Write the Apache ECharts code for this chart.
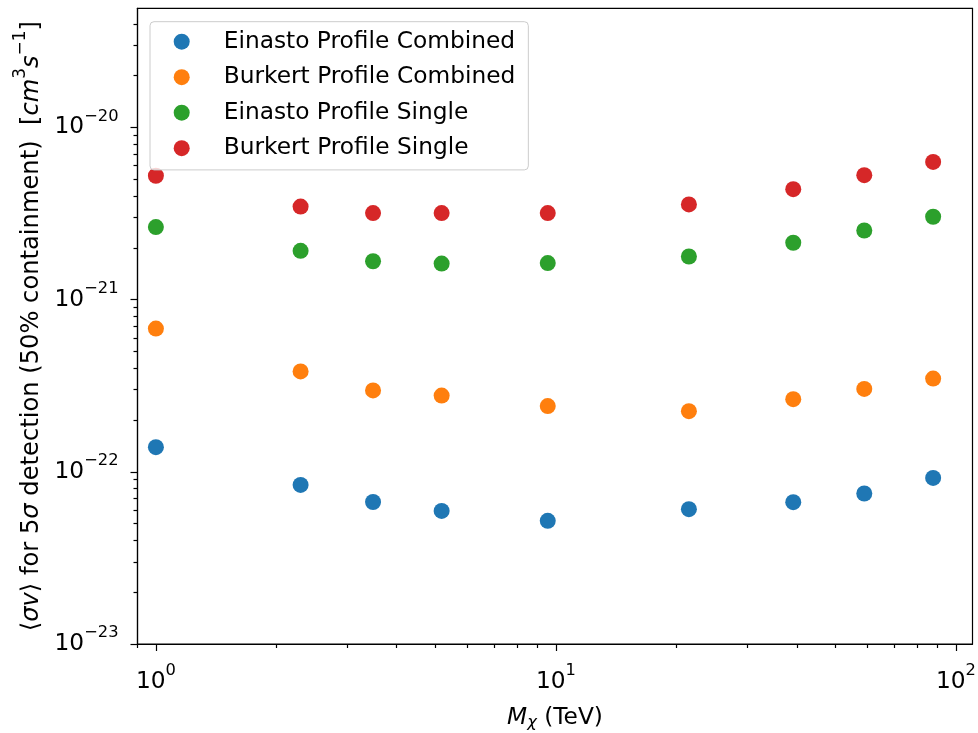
<!DOCTYPE html>
<html><head><meta charset="utf-8">
<script src="https://cdn.jsdelivr.net/npm/echarts@6/dist/echarts.min.js"></script>
<style>html,body{margin:0;padding:0;background:#fff;} #chart{width:978px;height:733px;}</style>
</head><body><div id="chart"></div>
<script>
// ---- data ----
const massesTeV = [1.0, 2.30, 3.49, 5.18, 9.54, 21.5, 39.2, 59.0, 87.7];
const einastoCombined = [1.39e-22, 8.39e-23, 6.68e-23, 5.93e-23, 5.19e-23, 6.07e-23, 6.66e-23, 7.48e-23, 9.21e-23];
const burkertCombined = [6.79e-22, 3.83e-22, 2.97e-22, 2.77e-22, 2.41e-22, 2.25e-22, 2.64e-22, 3.03e-22, 3.48e-22];
const einastoSingle = [2.64e-21, 1.92e-21, 1.67e-21, 1.62e-21, 1.63e-21, 1.78e-21, 2.14e-21, 2.52e-21, 3.03e-21];
const burkertSingle = [5.24e-21, 3.47e-21, 3.18e-21, 3.18e-21, 3.18e-21, 3.57e-21, 4.38e-21, 5.28e-21, 6.31e-21];
const seriesNames = ['Einasto Profile Combined', 'Burkert Profile Combined', 'Einasto Profile Single', 'Burkert Profile Single'];

const xMajorTicks = [1, 10, 100];
const xMinorTicks = [0.9, 2, 3, 4, 5, 6, 7, 8, 9, 20, 30, 40, 50, 60, 70, 80, 90];
const yMajorTicks = [1e-23, 1e-22, 1e-21, 1e-20];
const yMinorTicks = [2e-23, 3e-23, 4e-23, 5e-23, 6e-23, 7e-23, 8e-23, 9e-23,
  2e-22, 3e-22, 4e-22, 5e-22, 6e-22, 7e-22, 8e-22, 9e-22,
  2e-21, 3e-21, 4e-21, 5e-21, 6e-21, 7e-21, 8e-21, 9e-21,
  2e-20, 3e-20, 4e-20];

// ---- chart ----
const FONT = 'DejaVu Sans';
const FS = 23.3, FS_SUP = 16.3;
const FSY = 24.2, FSY_SUP = 16.9;
const colors = ['#1f77b4', '#ff7f0e', '#2ca02c', '#d62728'];
const valueSets = [einastoCombined, burkertCombined, einastoSingle, burkertSingle];

function powLabel(v) {
  const e = Math.round(Math.log10(v));
  return '{b|10}{s|' + String(e).replace('-', '\u2212') + '}';
}
const powRich = {
  b: { fontFamily: FONT, fontSize: FS, lineHeight: 38, color: '#000' },
  s: { fontFamily: FONT, fontSize: FS_SUP, lineHeight: 16, verticalAlign: 'top', color: '#000' }
};
const tickLine = { color: '#000', width: 1.2 };
const axisLineStyle = { show: true, lineStyle: { color: '#000', width: 1.2 } };

const chart = echarts.init(document.getElementById('chart'), null, { renderer: 'canvas' });
chart.setOption({
  animation: false,
  backgroundColor: '#fff',
  color: colors,
  grid: {
    left: 137.5, right: 5.5, top: 8.3, bottom: 89,
    show: true, borderColor: '#000', borderWidth: 1.2, backgroundColor: 'transparent',
    outerBoundsMode: 'none', containLabel: false
  },
  legend: {
    data: seriesNames,
    orient: 'vertical',
    left: 150, top: 21.7,
    padding: [6.5, 13, 8.2, 23.7],
    itemGap: 8.5,
    itemWidth: 16, itemHeight: 16,
    icon: 'circle',
    backgroundColor: 'rgba(255,255,255,0.8)',
    borderColor: '#cccccc', borderWidth: 1, borderRadius: 4,
    textStyle: { fontFamily: FONT, fontSize: FS, lineHeight: 27, color: '#000', padding: [0, 0, 0, 29] },
    selectedMode: false
  },
  xAxis: [{
    type: 'log', logBase: 10, min: 0.8995, max: 110, gridIndex: 0, position: 'bottom',
    name: '{i|M}{sub|\u03c7}{n| (TeV)}',
    nameLocation: 'middle', nameGap: 60,
    nameTextStyle: {
      rich: {
        i: { fontFamily: FONT, fontStyle: 'italic', fontSize: FS, lineHeight: 27, color: '#000' },
        sub: { fontFamily: FONT, fontStyle: 'italic', fontSize: FS_SUP, lineHeight: 16, verticalAlign: 'bottom', color: '#000' },
        n: { fontFamily: FONT, fontSize: FS, lineHeight: 27, color: '#000' }
      }
    },
    axisLine: axisLineStyle,
    axisTick: { show: true, length: 7, lineStyle: tickLine, customValues: xMajorTicks },
    axisLabel: { show: true, margin: 37.5, verticalAlign: 'middle', customValues: xMajorTicks, formatter: powLabel, rich: powRich },
    splitLine: { show: false }, minorTick: { show: false }
  }, {
    type: 'log', logBase: 10, min: 0.8995, max: 110, gridIndex: 0, position: 'bottom', offset: 0,
    axisLine: { show: false },
    axisTick: { show: true, length: 4, lineStyle: tickLine, customValues: xMinorTicks },
    axisLabel: { show: false },
    splitLine: { show: false }
  }],
  yAxis: [{
    type: 'log', logBase: 10, min: 0.9999e-23, max: 4.92e-20, gridIndex: 0, position: 'left',
    name: '{n|\u27e8}{i|\u03c3v}{n|\u27e9 for 5}{i|\u03c3}{n| detection (50% containment)  [}{i|cm}{s|3}{i|s}{s|\u22121}{n|]}',
    nameLocation: 'middle', nameGap: 84.5, nameRotate: 90,
    nameTextStyle: {
      rich: {
        n: { fontFamily: FONT, fontSize: FSY, lineHeight: 38, color: '#000' },
        i: { fontFamily: FONT, fontStyle: 'italic', fontSize: FSY, lineHeight: 38, color: '#000' },
        s: { fontFamily: FONT, fontSize: FSY_SUP, lineHeight: 16, verticalAlign: 'top', color: '#000' }
      }
    },
    axisLine: axisLineStyle,
    axisTick: { show: true, length: 7, lineStyle: tickLine, customValues: yMajorTicks },
    axisLabel: { show: true, margin: 19, verticalAlign: 'middle', customValues: yMajorTicks, formatter: powLabel, rich: powRich },
    splitLine: { show: false }, minorTick: { show: false }
  }, {
    type: 'log', logBase: 10, min: 0.9999e-23, max: 4.92e-20, gridIndex: 0, position: 'left', offset: 0,
    axisLine: { show: false },
    axisTick: { show: true, length: 4, lineStyle: tickLine, customValues: yMinorTicks },
    axisLabel: { show: false },
    splitLine: { show: false }
  }],
  series: seriesNames.map((name, k) => ({
    name: name,
    type: 'scatter',
    xAxisIndex: 0, yAxisIndex: 0,
    symbol: 'circle', symbolSize: 16,
    itemStyle: { color: colors[k], opacity: 1 },
    emphasis: { disabled: true },
    data: massesTeV.map((m, i) => [m, valueSets[k][i]])
  }))
});
</script>
</body></html>
